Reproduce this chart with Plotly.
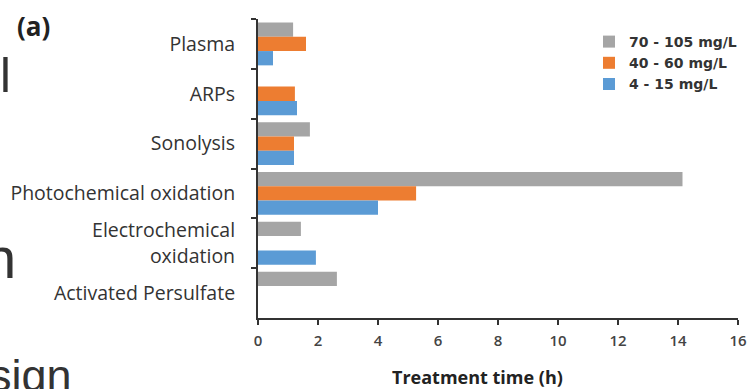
import plotly.graph_objects as go

categories = ["Plasma", "ARPs", "Sonolysis", "Photochemical oxidation",
              "Electrochemical<br>oxidation", "Activated Persulfate"]
high_conc = [1.17, None, 1.73, 14.15, 1.43, 2.63]      # 70 - 105 mg/L
mid_conc = [1.6, 1.23, 1.2, 5.27, None, None]           # 40 - 60 mg/L
low_conc = [0.5, 1.3, 1.2, 4.0, 1.93, None]             # 4 - 15 mg/L
series_names = ["70 - 105 mg/L", "40 - 60 mg/L", "4 - 15 mg/L"]
series_colors = ["#A5A5A5", "#ED7D31", "#5B9BD5"]
x_ticks = [0, 2, 4, 6, 8, 10, 12, 14, 16]

W, H = 749, 389
ML, MR, MT, MB = 258, 11, 19, 71
PW, PH = W - ML - MR, H - MT - MB

fig = go.Figure()
for name, vals, col in zip(series_names, [high_conc, mid_conc, low_conc], series_colors):
    fig.add_trace(go.Bar(y=categories, x=vals, name=name, orientation="h",
                         marker=dict(color=col, line=dict(width=0))))

def px_x(p):
    return (p - ML) / PW

def px_y(p):
    return 1 - (p - MT) / PH

fig.update_layout(
    width=W, height=H,
    margin=dict(l=ML, r=MR, t=MT, b=MB, pad=0, autoexpand=False),
    paper_bgcolor="white", plot_bgcolor="white",
    barmode="group", bargap=0.14, bargroupgap=0,
    font=dict(family="Open Sans", color="#404040"),
    showlegend=True,
    legend=dict(x=px_x(589), y=px_y(26), xanchor="left", yanchor="top",
                traceorder="normal", bgcolor="rgba(0,0,0,0)",
                font=dict(size=14, family="DejaVu Sans", weight=700, color="#333333"),
                itemwidth=30, tracegroupgap=0),
    xaxis=dict(range=[0, 16], tickvals=x_ticks, ticks="outside", ticklen=5,
               tickwidth=1.5, tickcolor="#333333", showline=True, linecolor="#333333",
               linewidth=2, showgrid=False, zeroline=False, automargin=False,
               ticklabelstandoff=3,
               tickfont=dict(size=15, family="Open Sans", weight=600, color="#444444")),
    yaxis=dict(autorange="reversed", type="category", tickson="boundaries",
               ticks="outside", ticklen=5, tickwidth=1.5, tickcolor="#333333",
               showline=True, linecolor="#333333", linewidth=2, showgrid=False,
               automargin=False,
               tickfont=dict(size=19.5, family="Open Sans", color="#333333"),
               ticklabelstandoff=17),
)

fig.add_annotation(text="<b>Treatment time (h)</b>", xref="paper", yref="paper",
                   x=px_x(477), y=px_y(377), xanchor="center", yanchor="middle",
                   showarrow=False,
                   font=dict(size=18, family="Open Sans", color="#222222"))
fig.add_annotation(text="<b>(a)</b>", xref="paper", yref="paper",
                   x=px_x(33), y=px_y(26), xanchor="center", yanchor="middle",
                   showarrow=False,
                   font=dict(size=26, family="Open Sans", color="#222222"))
# fragments of surrounding slide text
fig.add_annotation(text="l", xref="paper", yref="paper", x=px_x(5.5), y=px_y(75),
                   xanchor="center", yanchor="middle", showarrow=False,
                   font=dict(size=49, family="Liberation Sans", color="#333333"))
fig.add_annotation(text="n", xref="paper", yref="paper", x=px_x(18), y=px_y(257),
                   xanchor="right", yanchor="middle", showarrow=False,
                   font=dict(size=58, family="Liberation Sans", color="#333333"))
fig.add_annotation(text="sign", xref="paper", yref="paper", x=px_x(74), y=px_y(375),
                   xanchor="right", yanchor="middle", showarrow=False,
                   font=dict(size=45, family="Liberation Sans", color="#333333"))

fig.write_html("out.html", config={"displayModeBar": False},
               post_script="document.body.style.margin='0';")
